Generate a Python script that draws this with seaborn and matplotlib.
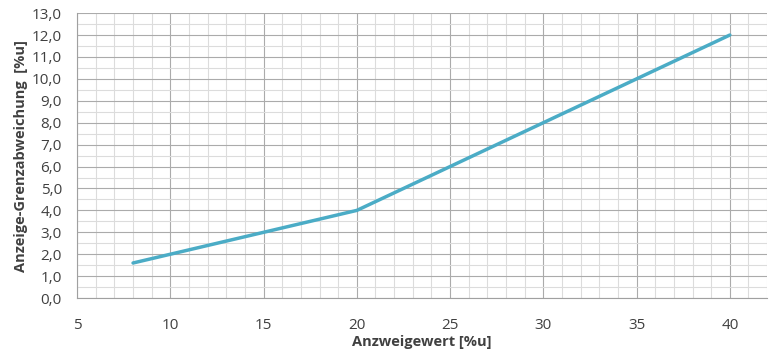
import matplotlib
matplotlib.use("Agg")
import matplotlib.pyplot as plt
import seaborn as sns
import pandas as pd
from matplotlib.ticker import MultipleLocator, FuncFormatter

# ─── Data ────────────────────────────────────────────────────────────────────
anzeigewert = [8, 10, 15, 20, 25, 30, 35, 40]
grenzabweichung = [1.6, 2.0, 3.0, 4.0, 6.0, 8.0, 10.0, 12.0]

df = pd.DataFrame({"x": anzeigewert, "y": grenzabweichung})

sns.set_theme(style="white")
plt.rcParams["font.family"] = ["Open Sans", "DejaVu Sans"]

fig, ax = plt.subplots(figsize=(7.71, 3.54), dpi=100)
fig.subplots_adjust(left=0.1, right=0.995, top=0.963, bottom=0.158)

sns.lineplot(data=df, x="x", y="y", ax=ax, color="#4BACC6", linewidth=2.5, zorder=3)

ax.set_xlim(5, 42)
ax.set_ylim(0, 13)
ax.xaxis.set_major_locator(MultipleLocator(5))
ax.xaxis.set_minor_locator(MultipleLocator(1))
ax.yaxis.set_major_locator(MultipleLocator(1))
ax.yaxis.set_minor_locator(MultipleLocator(0.5))
ax.yaxis.set_major_formatter(FuncFormatter(lambda v, _: f"{v:.1f}".replace(".", ",")))

ax.grid(which="major", color="#ABABAB", linewidth=0.8)
ax.grid(which="minor", color="#DCDCDC", linewidth=0.8)
ax.set_axisbelow(True)
for side in ["top", "right"]:
    ax.spines[side].set_visible(False)
for side in ["left", "bottom"]:
    ax.spines[side].set_color("#A0A0A0")
    ax.spines[side].set_linewidth(0.8)

ax.tick_params(axis="both", which="both", length=0, labelsize=11, colors="#404040")
ax.tick_params(axis="x", pad=14)
ax.tick_params(axis="y", pad=11)
ax.set_xlabel("Anzweigewert [%u]", fontsize=10.5, fontweight="bold", color="#404040", labelpad=2)
ax.set_ylabel("Anzeige-Grenzabweichung  [%u]", fontsize=10.5, fontweight="bold", color="#404040", labelpad=3)

fig.savefig("out.png", dpi=100)
